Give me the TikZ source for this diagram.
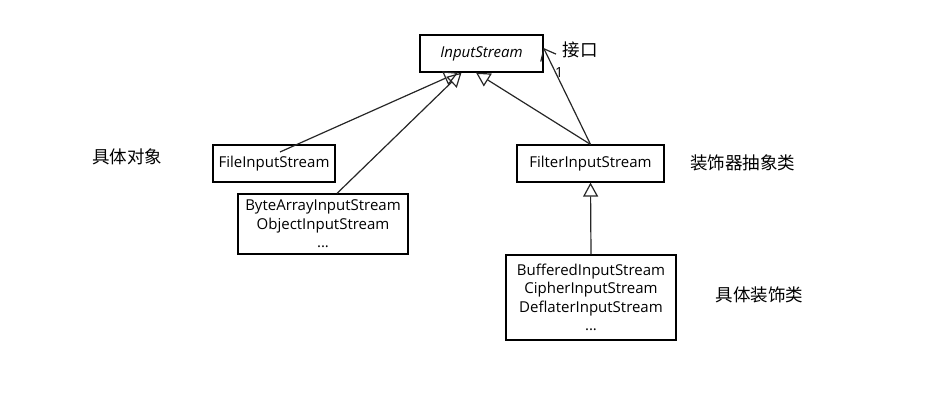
\documentclass[tikz,border=0pt]{standalone}
\usepackage{fontspec}
\setmainfont{Open Sans}
\newfontfamily\cjk{Noto Sans CJK SC}
\usetikzlibrary{arrows.meta,calc}
\begin{document}
\begin{tikzpicture}[x=1pt,y=-1pt,
  cls/.style={draw=black,line width=1.2pt,inner sep=0pt,align=center,font=\fontsize{15}{18.5}\selectfont},
  lab/.style={font=\cjk\fontsize{17.5}{20}\selectfont,inner sep=0pt},
  inh/.style={draw=black!85,line width=1.2pt,-{Triangle[open,length=14pt,width=15pt,line width=1.2pt]}},
  assoc/.style={draw=black!85,line width=1.2pt,-{Straight Barb[length=10pt,width=17pt,line width=1.2pt]}}]
\useasboundingbox (0,0) rectangle (951,403);
\node[cls,minimum width=123pt,minimum height=37pt] (inp) at (481.5,53.5) {\itshape InputStream};
\node[cls,minimum width=122pt,minimum height=37pt] (file) at (274,163.5) {FileInputStream};
\node[cls,minimum width=170pt,minimum height=60pt] (byte) at (323,224) {ByteArrayInputStream\\ObjectInputStream\\...};
\node[cls,minimum width=147pt,minimum height=37pt] (filter) at (590.5,163.5) {FilterInputStream};
\node[cls,minimum width=170pt,minimum height=85pt] (buf) at (591,297.5) {BufferedInputStream\\CipherInputStream\\DeflaterInputStream\\...};
\coordinate (fileS) at ($(file.center)+(6,-11.5)$);
\coordinate (byteS) at ($(byte.north)+(14,0)$);
\coordinate (tipA) at ($(inp.south)+(-23.5,0)$);
\coordinate (tipB) at ($(inp.south)+(-20,0)$);
\coordinate (tipC) at ($(inp.south)+(-5.5,0)$);
\coordinate (tipD) at ($(inp.east)+(0,-5.5)$);
\draw[inh] (fileS) -- (tipA);
\draw[inh] (byteS) -- (tipB);
\draw[inh] (filter.north) -- (tipC);
\draw[assoc] (filter.north) -- (tipD);
\draw[inh] (buf.north) -- (filter.south);
\node[font=\fontsize{14}{16}\selectfont,inner sep=0pt] (one) at (559,73) {1};
\node[lab] (l1) at (580,50) {接口};
\node[lab] (l2) at (127,157) {具体对象};
\node[lab] (l3) at (742.5,163) {装饰器抽象类};
\node[lab] (l4) at (759.5,295) {具体装饰类};
\end{tikzpicture}
\end{document}
